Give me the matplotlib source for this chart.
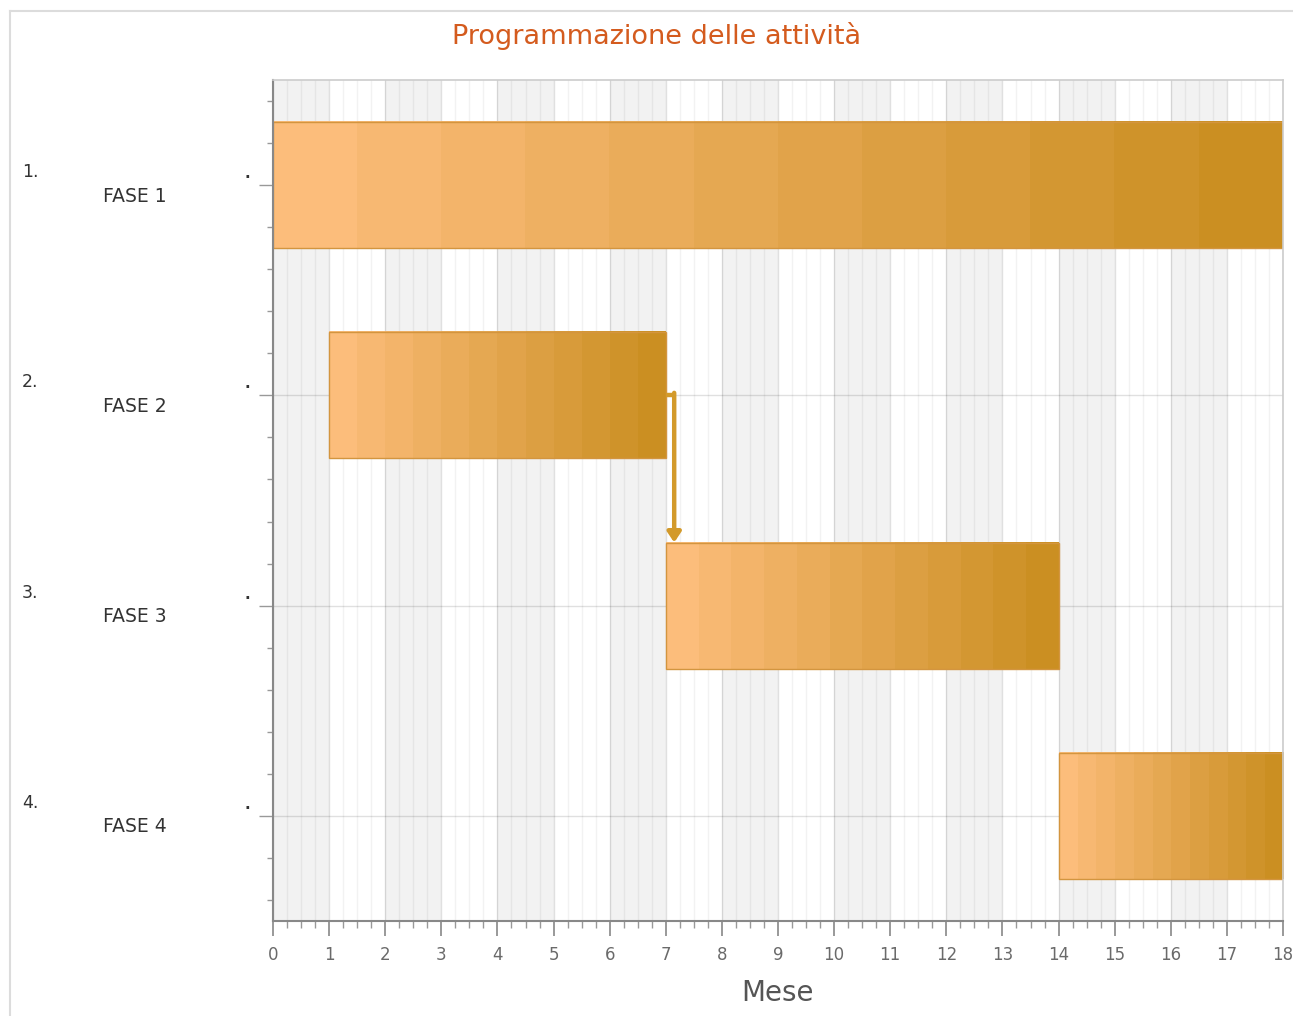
import matplotlib
matplotlib.use('Agg')
import matplotlib.pyplot as plt
import numpy as np
from matplotlib.colors import LinearSegmentedColormap
from matplotlib.patches import Rectangle
from matplotlib.lines import Line2D
from matplotlib.ticker import MultipleLocator


phases = ['FASE 1', 'FASE 2', 'FASE 3', 'FASE 4']
numbers = ['1.', '2.', '3.', '4.']
start = [0, 1, 7, 14]      # mese di inizio
end = [18, 7, 14, 18]      # mese di fine
links = [(1, 2), (2, 3)]   # dipendenze fine -> inizio
months = list(range(0, 19))

BAR_H = 0.6
LIGHT = '#fcbd7b'
DARK = '#cb8f22'
LINK_COL = '#d39a2b'

fig = plt.figure(figsize=(12.93, 10.16), dpi=100)
ax = fig.add_axes([273 / 1293, 95 / 1016, 1010 / 1293, 841 / 1016])

# outer frame of the chart panel
fig.add_artist(Line2D([10 / 1293, 1.0], [1 - 11 / 1016] * 2, color='#dcdcdc', lw=1.5,
                      transform=fig.transFigure))
fig.add_artist(Line2D([10 / 1293] * 2, [0.0, 1 - 11 / 1016], color='#dcdcdc', lw=1.5,
                      transform=fig.transFigure))

ax.set_xlim(months[0], months[-1])
ax.set_ylim(len(phases) - 0.5, -0.5)

# alternating month bands
for m in months[:-1:2]:
    ax.axvspan(m, m + 1, color='#f2f2f2', zorder=0, lw=0)

ax.set_axisbelow(True)
ax.xaxis.set_major_locator(MultipleLocator(1))
ax.xaxis.set_minor_locator(MultipleLocator(0.25))
ax.yaxis.set_major_locator(MultipleLocator(1))
ax.yaxis.set_minor_locator(MultipleLocator(0.2))
ax.grid(axis='x', which='major', color='#000000', alpha=0.12, lw=1)
ax.grid(axis='x', which='minor', color='#000000', alpha=0.05, lw=1)
ax.grid(axis='y', which='major', color='#000000', alpha=0.12, lw=1)

cmap = LinearSegmentedColormap.from_list('fase', [LIGHT, DARK])
grad = np.linspace(0, 1, 12).reshape(1, -1)

for i, (s, e) in enumerate(zip(start, end)):
    ax.imshow(grad, cmap=cmap, aspect='auto', interpolation='nearest',
              extent=(s, e, i + BAR_H / 2, i - BAR_H / 2), zorder=2)
    ax.add_patch(Rectangle((s, i - BAR_H / 2), e - s, BAR_H, fill=False,
                           edgecolor='#d3953f', lw=1, zorder=2.5))

ax.set_xlim(months[0], months[-1])
ax.set_ylim(len(phases) - 0.5, -0.5)

# dependency connectors
for a, b in links:
    x0 = end[a - 1]
    xa = x0 + 0.15
    ya = a - 1
    ax.plot([x0, xa], [ya, ya], color=LINK_COL, lw=3.2, solid_capstyle='butt', zorder=3)
    ax.annotate('', xy=(xa, b - 1 - BAR_H / 2), xytext=(xa, ya - 0.012),
                arrowprops=dict(arrowstyle='-|>,head_length=0.6,head_width=0.4',
                                color=LINK_COL, lw=3.2, shrinkA=0, shrinkB=0,
                                mutation_scale=10),
                zorder=3)

ax.set_xticks(months)
ax.set_xticklabels([str(m) for m in months])
ax.set_yticks(range(len(phases)))
ax.set_yticklabels([])

ax.tick_params(axis='x', which='major', length=11, width=1.2, color='#888888',
               labelsize=12, labelcolor='#6a6a6a', pad=7)
ax.tick_params(axis='x', which='minor', length=5, width=1, color='#999999')
ax.tick_params(axis='y', which='major', length=10, width=1, color='#999999')
ax.tick_params(axis='y', which='minor', length=4, width=1, color='#999999')

for i, (num, name) in enumerate(zip(numbers, phases)):
    ax.annotate(num, xy=(0, i), xycoords=('axes fraction', 'data'),
                xytext=(-251 * 0.72, 13 * 0.72), textcoords='offset points',
                ha='left', va='center', fontsize=12.5, color='#333333')
    ax.annotate(name, xy=(0, i), xycoords=('axes fraction', 'data'),
                xytext=(-138 * 0.72, -11 * 0.72), textcoords='offset points',
                ha='center', va='center', fontsize=13.5, color='#333333')
    ax.annotate('.', xy=(0, i), xycoords=('axes fraction', 'data'),
                xytext=(-26 * 0.72, 4 * 0.72), textcoords='offset points',
                ha='center', va='bottom', fontsize=11, color='#333333',
                fontweight='bold')

for side in ['left', 'bottom']:
    ax.spines[side].set_color('#888888')
    ax.spines[side].set_linewidth(1.5)
for side in ['top', 'right']:
    ax.spines[side].set_color('#cccccc')
    ax.spines[side].set_linewidth(1.2)

ax.set_xlabel('Mese', fontsize=20, color='#555555', labelpad=11)
fig.text(657 / 1293, 1 - 36 / 1016, 'Programmazione delle attività', ha='center', va='center',
         fontsize=19.5, color='#d45b1e')

plt.savefig('out.png', dpi=100)
